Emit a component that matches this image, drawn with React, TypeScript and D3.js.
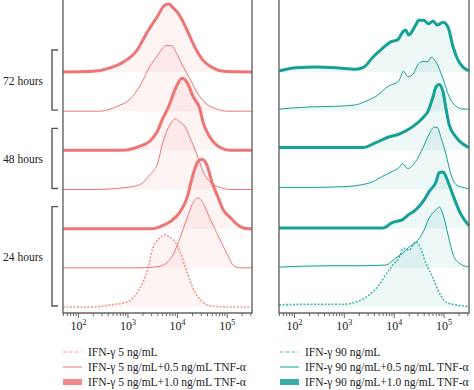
import React from 'react';
import * as d3 from 'd3';

// x values are log10 of fluorescence intensity, y values are % of mode
const timeLabels = ['72 hours', '48 hours', '24 hours'];
const decadeTicks = [2, 3, 4, 5];
const legendLeft = ['IFN-γ 5 ng/mL', 'IFN-γ 5 ng/mL+0.5 ng/mL TNF-α', 'IFN-γ 5 ng/mL+1.0 ng/mL TNF-α'];
const legendRight = ['IFN-γ 90 ng/mL', 'IFN-γ 90 ng/mL+0.5 ng/mL TNF-α', 'IFN-γ 90 ng/mL+1.0 ng/mL TNF-α'];

// IFN-γ 5 ng/mL panel
const low72hTnf10 = [[1.69, 0], [2.29, 1], [2.64, 6], [2.9, 14], [3.18, 31], [3.38, 56], [3.59, 79], [3.75, 96], [3.83, 97], [3.89, 93], [4.01, 84], [4.19, 60], [4.31, 41], [4.51, 17], [4.71, 6], [4.92, 1], [5.5, 0]];
const low72hTnf05 = [[1.69, 0], [2.44, 0], [2.78, 7], [3.04, 17], [3.24, 36], [3.44, 64], [3.59, 79], [3.69, 89], [3.77, 94], [3.89, 93], [3.99, 81], [4.11, 64], [4.25, 46], [4.39, 27], [4.59, 10], [4.79, 3], [5.0, 0], [5.5, 0]];
const low48hTnf10 = [[1.69, 0], [2.9, 0], [3.24, 6], [3.44, 13], [3.59, 27], [3.71, 47], [3.81, 61], [3.95, 87], [4.09, 103], [4.19, 97], [4.31, 77], [4.45, 59], [4.51, 41], [4.65, 19], [4.86, 4], [5.06, 0], [5.5, 0]];
const low48hTnf05 = [[1.69, 0], [2.29, 0], [2.98, 3], [3.24, 7], [3.44, 21], [3.59, 36], [3.71, 69], [3.85, 93], [3.95, 101], [4.05, 96], [4.15, 90], [4.25, 74], [4.39, 50], [4.51, 26], [4.65, 11], [4.86, 3], [5.06, 0], [5.5, 0]];
const low24hTnf10 = [[1.69, 0], [3.5, 0], [3.65, 3], [3.85, 10], [4.05, 24], [4.19, 44], [4.31, 77], [4.41, 96], [4.49, 99], [4.59, 91], [4.69, 67], [4.82, 44], [4.92, 27], [5.06, 16], [5.26, 3], [5.42, 0], [5.5, 0]];
const low24hTnf05 = [[1.69, 0], [3.18, 0], [3.5, 1], [3.71, 4], [3.91, 19], [4.05, 43], [4.19, 71], [4.29, 90], [4.41, 100], [4.51, 93], [4.65, 71], [4.79, 50], [4.99, 21], [5.12, 4], [5.26, 0], [5.5, 0]];
const low24hCtrl = [[1.69, 0], [2.3, 0], [2.64, 3], [2.98, 7], [3.24, 27], [3.38, 50], [3.5, 84], [3.65, 99], [3.75, 103], [3.85, 99], [3.95, 93], [4.05, 79], [4.19, 50], [4.31, 27], [4.51, 7], [4.71, 1], [5.0, 0], [5.5, 0]];

// IFN-γ 90 ng/mL panel
const high72hTnf10 = [[1.69, 1.5], [2.03, 6], [2.43, 7], [2.83, 6], [3.23, 4], [3.39, 7], [3.57, 21], [3.77, 34], [3.93, 43], [4.07, 46], [4.17, 57], [4.23, 60], [4.29, 53], [4.43, 67], [4.49, 74], [4.59, 74], [4.69, 69], [4.78, 73], [4.86, 67], [4.98, 71], [5.08, 64], [5.18, 36], [5.28, 17], [5.38, 7], [5.5, 1.5]];
const high72hTnf05 = [[1.69, 3], [2.29, 6], [2.83, 7], [3.23, 9], [3.39, 13], [3.63, 21], [3.89, 36], [4.09, 43], [4.19, 57], [4.27, 49], [4.38, 53], [4.48, 67], [4.58, 71], [4.68, 71], [4.74, 77], [4.84, 70], [4.98, 46], [5.1, 21], [5.24, 7], [5.38, 3], [5.5, 3]];
const high48hTnf10 = [[1.69, 4], [2.29, 4], [2.97, 4], [3.37, 4], [3.63, 11], [3.89, 19], [4.09, 23], [4.29, 30], [4.43, 37], [4.58, 47], [4.68, 56], [4.78, 77], [4.84, 91], [4.9, 94], [4.98, 83], [5.04, 59], [5.1, 37], [5.24, 19], [5.38, 9], [5.5, 4]];
const high48hTnf05 = [[1.69, 3], [2.29, 3], [2.97, 4], [3.49, 9], [3.77, 19], [3.97, 26], [4.09, 31], [4.17, 37], [4.27, 30], [4.43, 40], [4.58, 60], [4.7, 79], [4.8, 89], [4.86, 89], [4.94, 74], [5.04, 50], [5.14, 21], [5.24, 7], [5.38, 3], [5.5, 1]];
const high24hTnf10 = [[1.69, 1], [2.63, 1], [3.77, 1], [3.97, 9], [4.17, 13], [4.29, 20], [4.43, 27], [4.58, 39], [4.7, 53], [4.84, 67], [4.9, 80], [4.98, 81], [5.04, 74], [5.1, 63], [5.2, 44], [5.32, 23], [5.5, 4]];
const high24hTnf05 = [[1.69, 1], [2.63, 3], [3.29, 3], [3.83, 4], [4.03, 14], [4.17, 21], [4.29, 29], [4.43, 36], [4.58, 51], [4.7, 71], [4.84, 83], [4.9, 87], [4.98, 76], [5.08, 47], [5.18, 19], [5.3, 7], [5.5, 1]];
const high24hCtrl = [[1.69, 3], [2.29, 4], [2.97, 4], [3.23, 7], [3.49, 17], [3.69, 31], [3.83, 46], [3.97, 60], [4.09, 70], [4.19, 84], [4.29, 81], [4.43, 93], [4.53, 84], [4.63, 64], [4.78, 41], [4.9, 21], [5.04, 7], [5.24, 3], [5.5, 1]];

const leftRows = [low72hTnf10, low72hTnf05, low48hTnf10, low48hTnf05, low24hTnf10, low24hTnf05, low24hCtrl];
const rightRows = [high72hTnf10, high72hTnf05, high48hTnf10, high48hTnf05, high24hTnf10, high24hTnf05, high24hCtrl];
const rowKinds = ['thick', 'thin', 'thick', 'thin', 'thick', 'thin', 'dashed'];

const PINK = '#ef7474';
const TEAL = '#15a196';
const serif = '"Liberation Serif", "DejaVu Serif", serif';

const rowY = d3.scaleLinear().domain([0, 6]).range([72, 307]);
const heightY = d3.scaleLinear().domain([0, 100]).range([0, 70]);

const Panel = ({ rows, x0, x1, color }) => {
  const x = d3.scaleLog().domain([10 ** 1.69, 10 ** 5.5]).range([x0, x1]);
  const minor = [];
  for (let e = 1; e <= 5; e++) {
    for (let m = 1; m < 10; m++) {
      const v = m * 10 ** e;
      if (v >= 10 ** 1.69 && v <= 10 ** 5.5) minor.push({ v, major: m === 1 });
    }
  }
  return (
    <g>
      {rows.map((data, i) => {
        const base = rowY(i);
        const area = d3
          .area()
          .x(d => x(10 ** d[0]))
          .y0(base)
          .y1(d => base - heightY(d[1]))
          .curve(d3.curveMonotoneX);
        const line = d3
          .line()
          .x(d => x(10 ** d[0]))
          .y(d => base - heightY(d[1]))
          .curve(d3.curveMonotoneX);
        const kind = rowKinds[i];
        return (
          <g key={i}>
            <path d={area(data)} fill={color} fillOpacity={0.08} />
            <path
              d={line(data)}
              fill="none"
              stroke={color}
              strokeOpacity={kind === 'dashed' ? 0.75 : 1}
              strokeWidth={kind === 'thick' ? 3 : kind === 'thin' ? 1 : 1.6}
              strokeDasharray={kind === 'dashed' ? '2,1.5' : null}
            />
          </g>
        );
      })}
      <path d={`M${x0},0V313H${x1}V0`} fill="none" stroke="#666" strokeWidth={1.4} />
      {minor.map((t, i) => (
        <line key={i} x1={x(t.v)} x2={x(t.v)} y1={313} y2={t.major ? 318 : 316} stroke="#666" strokeWidth={1} />
      ))}
      {decadeTicks.map(e => (
        <text key={e} x={x(10 ** e)} y={330} textAnchor="middle" fontFamily={serif} fontSize={12} fill="#222">
          10<tspan dy={-5} fontSize={8}>{e}</tspan>
        </text>
      ))}
    </g>
  );
};

const Legend = ({ labels, x0, color }) => (
  <g>
    {labels.map((label, i) => {
      const y = 352 + i * 15;
      return (
        <g key={i}>
          {i === 2 ? (
            <rect x={x0} y={y - 3} width={19} height={6} fill={color} fillOpacity={0.85} />
          ) : (
            <line x1={x0} x2={x0 + 19} y1={y} y2={y} stroke={color} strokeOpacity={i === 0 ? 0.7 : 1} strokeWidth={1} strokeDasharray={i === 0 ? '3.5,2.5' : null} />
          )}
          <text x={x0 + 25} y={y + 4} fontFamily={serif} fontSize={11.5} fill="#222">{label}</text>
        </g>
      );
    })}
  </g>
);

export default function App() {
  const groups = [
    [0, 1],
    [2, 3],
    [4, 6],
  ];
  return (
    <svg width={474} height={390} style={{ position: 'absolute', left: 0, top: 0 }}>
      <rect width={474} height={390} fill="#fff" />
      <Panel rows={leftRows} x0={63} x1={252} color={PINK} />
      <Panel rows={rightRows} x0={279} x1={469} color={TEAL} />
      {groups.map(([a, b], i) => {
        const top = rowY(a) - 22;
        const bottom = rowY(b) - 1;
        return (
          <g key={i}>
            <path d={`M58,${top}H52V${bottom}H58`} fill="none" stroke="#555" strokeWidth={1.4} />
            <text x={43} y={(top + bottom) / 2 + 5} textAnchor="end" fontFamily={serif} fontSize={11.5} fill="#222">
              {timeLabels[i]}
            </text>
          </g>
        );
      })}
      <Legend labels={legendLeft} x0={63} color={PINK} />
      <Legend labels={legendRight} x0={280} color={TEAL} />
    </svg>
  );
}
